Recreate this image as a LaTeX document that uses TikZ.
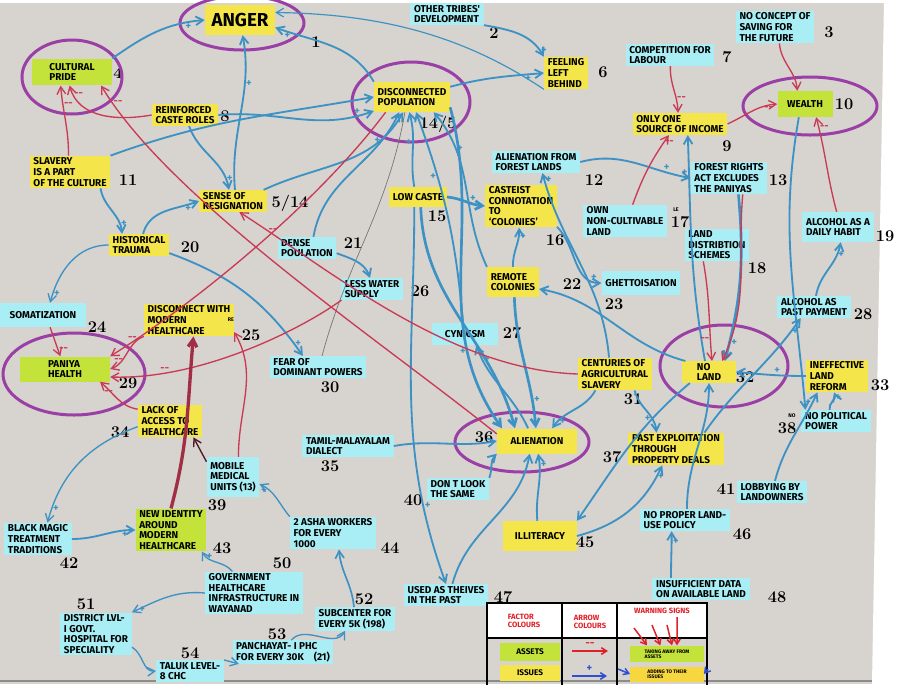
\documentclass[tikz,border=0pt]{standalone}
\usepackage{fontspec}
\usetikzlibrary{arrows.meta,calc}
\newfontfamily\boxfont{Fira Sans}
\definecolor{paper}{HTML}{D7D3CE}
\definecolor{issue}{HTML}{F4E64A}
\definecolor{factor}{HTML}{A8EEF4}
\definecolor{asset}{HTML}{C3E33A}
\definecolor{ringc}{HTML}{9A3FA5}
\definecolor{plusc}{HTML}{3C92C4}
\definecolor{minusc}{HTML}{C93A55}
\definecolor{legred}{HTML}{E0202A}
\definecolor{legblue}{HTML}{2F4FD0}

\begin{document}
\begin{tikzpicture}[x=0.3mm, y=-0.3mm,
  box/.style={inner xsep=1.1mm, inner ysep=0.6mm, align=left,
              font=\boxfont\bfseries\fontsize{8.5}{9}\selectfont},
  yel/.style={box, fill=issue},
  cya/.style={box, fill=factor},
  grn/.style={box, fill=asset},
  num/.style={inner sep=0pt, font=\bfseries\fontsize{14}{14}\selectfont},
  note/.style={inner sep=0pt, font=\boxfont\bfseries\fontsize{4.5}{5}\selectfont},
  halo/.style={draw=ringc, line width=0.9mm},
  adds/.style={-{Straight Barb[length=2.2mm,width=2.6mm]}, draw=plusc, line width=0.55mm},
  takes/.style={-{Straight Barb[length=2.2mm,width=2.6mm]}, draw=minusc, line width=0.4mm},
  faint/.style={draw=black!55, line width=0.2mm},
  sp/.style={text=plusc, inner sep=0.5pt, font=\boxfont\bfseries\fontsize{9}{9}\selectfont},
  sn/.style={text=minusc, inner sep=0.5pt, font=\boxfont\bfseries\fontsize{9}{9}\selectfont},
  keytxt/.style={text=legred, inner sep=0pt, align=left,
                 font=\boxfont\bfseries\fontsize{6.5}{7}\selectfont},
  tiny/.style={inner sep=0.6mm, align=left, font=\boxfont\bfseries\fontsize{4.3}{4.6}\selectfont},
  legarr/.style={-{Straight Barb[length=1.6mm,width=2mm]}, line width=0.45mm}]

  \useasboundingbox (0,0) rectangle (900,684);
  \fill[paper] (0,0) rectangle (900,684);
  \fill[white] (884,0) -- (900,0) -- (900,684) -- (872,684) -- cycle;
  \fill[white] (0,0) rectangle (884,3);
  \draw[black!45, line width=0.4mm] (0,681) -- (872,681);

  % factors
  \node[yel, font=\boxfont\bfseries\fontsize{16}{16}\selectfont,
        minimum width=21mm, minimum height=9mm] (anger) at (240,20) {ANGER};
  \node[cya] (tribes) at (447,14) {OTHER TRIBES'\\DEVELOPMENT};
  \node[cya] (saving) at (775,27) {NO CONCEPT OF\\SAVING FOR\\THE FUTURE};
  \node[grn, minimum width=24mm, minimum height=8mm] (pride) at (72,72) {CULTURAL\\PRIDE};
  \node[yel, minimum height=9mm] (discon) at (412,97) {DISCONNECTED\\POPULATION};
  \node[yel] (feel) at (566,73) {FEELING\\LEFT\\BEHIND};
  \node[cya] (compet) at (670,55) {COMPETITION FOR\\LABOUR};
  \node[yel] (caste) at (185,115) {REINFORCED\\CASTE ROLES};
  \node[yel] (income) at (680,124) {ONLY ONE\\SOURCE OF INCOME};
  \node[grn, minimum width=16.5mm, minimum height=7.8mm] (wealth) at (805,104) {WEALTH};
  \node[yel] (slavery) at (70,172) {SLAVERY\\IS A PART\\OF THE CULTURE};
  \node[cya] (forest) at (536,162) {ALIENATION FROM\\FOREST LANDS};
  \node[cya] (fra) at (729,178) {FOREST RIGHTS\\ACT EXCLUDES\\THE PANIYAS};
  \node[yel] (resig) at (233,201) {SENSE OF\\RESIGNATION};
  \node[yel, minimum height=6mm] (low) at (418,197) {LOW CASTE};
  \node[yel] (castst) at (521,206) {CASTEIST\\CONNOTATION\\TO\\‘COLONIES’};
  \node[cya] (ownland) at (625,221) {OWN\\NON-CULTIVABLE\\LAND};
  \node[cya] (lds) at (717,245) {LAND\\DISTRIBTION\\SCHEMES};
  \node[cya, minimum height=9mm] (daily) at (838,227) {ALCOHOL AS A\\DAILY HABIT};
  \node[yel] (trauma) at (139,245) {HISTORICAL\\TRAUMA};
  \node[cya] (dense) at (307,248) {DENSE\\POULATION};
  \node[yel, minimum height=9mm] (remote) at (513,282) {REMOTE\\COLONIES};
  \node[cya, minimum height=7mm] (ghetto) at (641,283) {GHETTOISATION};
  \node[cya, minimum width=25.5mm, minimum height=7.2mm] (somat) at (43,315) {SOMATIZATION};
  \node[yel] (dmh) at (189,320) {DISCONNECT WITH\\MODERN\\HEALTHCARE};
  \node[cya] (water) at (372,289) {LESS WATER\\SUPPLY};
  \node[cya, minimum width=20mm, minimum height=6.6mm] (cyn) at (465,334) {CYNICSM};
  \node[cya] (pastpay) at (814,307) {ALCOHOL AS\\PAST PAYMENT};
  \node[grn, minimum width=27mm, minimum height=7.5mm] (health) at (65,369) {PANIYA\\HEALTH};
  \node[cya] (fear) at (318,367) {FEAR OF\\DOMINANT POWERS};
  \node[yel] (centuries) at (615,374) {CENTURIES OF\\AGRICULTURAL\\SLAVERY};
  \node[yel, minimum width=16mm, minimum height=6mm] (noland) at (709,372) {NO\\LAND};
  \node[yel] (ineff) at (837,376) {INEFFECTIVE\\LAND\\REFORM};
  \node[yel] (lack) at (170,421) {LACK OF\\ACCESS TO\\HEALTHCARE};
  \node[cya] (tamil) at (348,446) {TAMIL-MALAYALAM\\DIALECT};
  \node[yel, minimum width=24mm, minimum height=7.5mm] (alien) at (537,441) {ALIENATION};
  \node[yel] (pastex) at (676,449) {PAST EXPLOITATION\\THROUGH\\PROPERTY DEALS};
  \node[cya] (polit) at (836,421) {NO POLITICAL\\POWER};
  \node[cya, minimum height=12mm] (mobile) at (233,477) {MOBILE\\MEDICAL\\UNITS (13)};
  \node[cya] (dontlook) at (458,489) {DON T LOOK\\THE SAME};
  \node[cya] (lobby) at (772,492) {LOBBYING BY\\LANDOWNERS};
  \node[cya] (magic) at (38,539) {BLACK MAGIC\\TREATMENT\\TRADITIONS};
  \node[grn] (newid) at (171,530) {NEW IDENTITY\\AROUND\\MODERN\\HEALTHCARE};
  \node[cya] (asha) at (333,533) {2 ASHA WORKERS\\FOR EVERY\\1000};
  \node[yel, minimum width=22mm, minimum height=9mm] (illit) at (540,536) {ILLITERACY};
  \node[cya] (landuse) at (685,520) {NO PROPER LAND-\\USE POLICY};
  \node[cya] (thieves) at (446,595) {USED AS THEIVES\\IN THE PAST};
  \node[cya] (insuff) at (701,589) {INSUFFICIENT DATA\\ON AVAILABLE LAND};
  \node[cya] (govt) at (254,593) {GOVERNMENT\\HEALTHCARE\\INFRASTRUCTURE IN\\WAYANAD};
  \node[cya] (district) at (96,634) {DISTRICT LVL-\\I GOVT.\\HOSPITAL FOR\\SPECIALITY};
  \node[cya] (subc) at (355,619) {SUBCENTER FOR\\EVERY 5K (198)};
  \node[cya] (panch) at (283,652) {PANCHAYAT- I PHC\\FOR EVERY 30K\quad(21)};
  \node[cya] (taluk) at (190,671) {TALUK LEVEL-\\8 CHC};

  % numbers
  \node[num] (n1) at (316,42) {1};
  \node[num] (n2) at (494,33) {2};
  \node[num] (n3) at (829,32) {3};
  \node[num] (n4) at (118,73) {4};
  \node[num] (n5) at (438,124) {14/5};
  \node[num] (n6) at (603,72) {6};
  \node[num] (n7) at (727,57) {7};
  \node[num] (n8) at (225,116) {8};
  \node[num] (n9) at (727,146) {9};
  \node[num] (n10) at (844,104) {10};
  \node[num] (n11) at (128,180) {11};
  \node[num] (n12) at (594,180) {12};
  \node[num] (n13) at (778,180) {13};
  \node[num] (n14) at (290,203) {5/14};
  \node[num] (n15) at (437,216) {15};
  \node[num] (n16) at (555,240) {16};
  \node[num] (n17) at (680,222) {17};
  \node[num] (n18) at (757,268) {18};
  \node[num] (n19) at (885,236) {19};
  \node[num] (n20) at (190,247) {20};
  \node[num] (n21) at (353,243) {21};
  \node[num] (n22) at (572,284) {22};
  \node[num] (n23) at (614,304) {23};
  \node[num] (n24) at (97,327) {24};
  \node[num] (n25) at (251,335) {25};
  \node[num] (n26) at (420,291) {26};
  \node[num] (n27) at (512,333) {27};
  \node[num] (n28) at (863,314) {28};
  \node[num] (n29) at (128,383) {29};
  \node[num] (n30) at (330,387) {30};
  \node[num] (n31) at (633,399) {31};
  \node[num] (n32) at (745,377) {32};
  \node[num] (n33) at (880,385) {33};
  \node[num] (n34) at (120,432) {34};
  \node[num] (n35) at (330,466) {35};
  \node[num] (n36) at (484,437) {36};
  \node[num] (n37) at (612,457) {37};
  \node[num] (n38) at (787,428) {38};
  \node[num] (n39) at (217,505) {39};
  \node[num] (n40) at (413,500) {40};
  \node[num] (n41) at (726,489) {41};
  \node[num] (n42) at (69,563) {42};
  \node[num] (n43) at (222,548) {43};
  \node[num] (n44) at (390,548) {44};
  \node[num] (n45) at (585,542) {45};
  \node[num] (n46) at (742,534) {46};
  \node[num] (n47) at (503,597) {47};
  \node[num] (n48) at (777,597) {48};
  \node[num] (n50) at (282,563) {50};
  \node[num] (n51) at (86,604) {51};
  \node[num] (n52) at (364,599) {52};
  \node[num] (n53) at (277,634) {53};
  \node[num] (n54) at (190,653) {54};
  \node[note] (sno) at (792,416) {NO};
  \node[note] (sre) at (231,320) {RE};
  \node[note] (sle) at (676,210) {LE};

  % rings round the key factors
  \draw[halo] (242,23) ellipse [x radius=62, y radius=27];
  \draw[halo] (72,77) ellipse [x radius=50, y radius=37];
  \draw[halo] (411,102) ellipse [x radius=59, y radius=40];
  \draw[halo] (810,106) ellipse [x radius=67, y radius=29];
  \draw[halo] (74,374) ellipse [x radius=71, y radius=41];
  \draw[halo] (724,366) ellipse [x radius=64, y radius=41];
  \draw[halo] (522,442) ellipse [x radius=67, y radius=30];

  % blue arrows (adding)
  \draw[adds] (pride.north east) to[out=35,in=185] node[sp,pos=.85,below]{+} (anger.west);
  \draw[adds] (discon.north west) to[out=120,in=-20] node[sp,pos=.9,below]{+} (anger.-12);
  \draw[adds, line width=0.35mm] (feel.south west) .. controls (470,40) and (390,14) .. (anger.12);
  \draw[adds] (tribes.south east) to[out=-10,in=120] node[sp,pos=.9,right]{+} (feel.north west);
  \draw[adds] (discon.15) to[out=15,in=185] node[sp,pos=.85,below]{+} (feel.west);
  \draw[adds] (resig.80) to[out=95,in=-80] node[sp,pos=.7,right]{+} (anger.-80);
  \draw[adds] (slavery.north east) to[out=20,in=190] (discon.west);
  \draw[adds] (caste.east) to[out=5,in=200] node[sp,pos=.9,above]{+} (discon.-160);
  \draw[adds] (caste.-70) to[out=-70,in=100] node[sp,pos=.85,right]{+} (resig.110);
  \draw[adds] ([xshift=-3mm]slavery.south east) to[out=-80,in=95] node[sp,pos=.8,right]{+} ([xshift=4mm]trauma.north west);
  \draw[adds] (trauma.70) to[out=75,in=200] node[sp,pos=.85,below]{+} (resig.west);
  \draw[adds, line width=0.4mm] (trauma.west) to[out=180,in=75] node[sp,pos=.9,right]{+} (somat.60);
  \draw[adds] (trauma.-15) to[out=-20,in=125] node[sp,pos=.92,right]{+} ([xshift=10mm]fear.north west);
  \draw[adds] (resig.20) to[out=25,in=240] (discon.-120);
  \draw[adds] (dense.60) to[out=80,in=245] node[sp,pos=.8,left]{+} (discon.-130);
  \draw[faint] (discon.-115) to[out=-100,in=75] (fear.70);
  \draw[adds] (low.110) to[out=100,in=-75] node[sp,pos=.6,left]{+} (discon.-100);
  \draw[adds] (cyn.100) to[out=95,in=-70] node[sp,pos=.7,left]{+} (discon.-75);
  \draw[adds] (remote.150) to[out=115,in=-50] node[sp,pos=.75,right]{+} (discon.-35);
  \draw[adds, line width=0.8mm] (discon.-15) to[out=-75,in=125] node[sp,pos=.75,left]{+} (alien.160);
  \draw[adds, line width=0.8mm] (low.-75) to[out=-88,in=105] (alien.150);
  \draw[adds, line width=0.8mm] (low.east) to[out=-5,in=175] node[sp,pos=.7,above]{+} (castst.west);
  \draw[adds] (low.-110) to[out=-90,in=110] node[sp,pos=.8,right]{+} (thieves.north);
  \draw[adds] (forest.east) to[out=15,in=170] node[sp,pos=.8,above]{+} (fra.west);
  \draw[adds] (centuries.110) to[out=95,in=-75] node[sp,pos=.97,right]{+} (forest.-60);
  \draw[adds] (remote.north) to[out=92,in=-88] node[sp,pos=.8,right]{+} (castst.-95);
  \draw[adds] (castst.-30) to[out=-45,in=180] node[sp,pos=.9,above]{+} (ghetto.west);
  \draw[adds, line width=0.8mm] (remote.-85) to[out=-88,in=95] node[sp,pos=.8,right]{+} (alien.95);
  \draw[adds] (noland.155) to[out=165,in=-10] (remote.-15);
  \draw[adds] (centuries.-140) to[out=-120,in=55] node[sp,pos=.85,right]{+} (alien.40);
  \draw[adds] (centuries.-40) to[out=-75,in=95] node[sp,pos=.7,left]{+} (pastex.140);
  \draw[adds] (noland.110) to[out=100,in=-88] node[sp,pos=.85,left]{+} (income.-55);
  \draw[adds, line width=0.8mm] (fra.-60) to[out=-85,in=75] node[sp,pos=.9,right]{+} (noland.35);
  \draw[adds] (wealth.-115) to[out=-100,in=95] (polit.160);
  \draw[adds] (pastpay.80) to[out=80,in=-100] node[sp,pos=.8,right]{+} (daily.-80);
  \draw[adds] (pastex.30) to[out=55,in=-125] node[sp,pos=.9,right]{+} (pastpay.-140);
  \draw[adds] (ineff.west) to[out=180,in=-5] node[sp,pos=.4,above]{+} (noland.east);
  \draw[adds] (polit.120) to[out=100,in=-70] node[sp,pos=.7,right]{+} (ineff.-100);
  \draw[adds] (lobby.75) to[out=75,in=-115] node[sp,pos=.9,left]{+} (ineff.-140);
  \draw[adds] (illit.east) to[out=15,in=-115] node[sp,pos=.9,right]{+} (pastex.-130);
  \draw[adds] (landuse.80) to[out=90,in=-90] (noland.south);
  \draw[adds] ([xshift=-9mm]insuff.north) to[out=90,in=-90] node[sp,pos=.8,right]{+} ([xshift=-4mm]landuse.south);
  \draw[adds] (illit.100) to[out=95,in=-80] node[sp,pos=.85,right]{+} (alien.-85);
  \draw[adds] (thieves.60) to[out=75,in=-100] (alien.-120);
  \draw[adds] (noland.-150) to[out=-140,in=55] (illit.north east);
  \draw[adds] (dontlook.north east) to[out=70,in=-135] (alien.south west);
  \draw[adds] (tamil.east) to[out=10,in=190] (alien.west);
  \draw[adds] (alien.125) to[out=115,in=-70] node[sp,pos=.85,right]{+} (cyn.-45);
  \draw[adds] (dense.-10) to[out=-20,in=110] (water.100);
  \draw[adds] (magic.east) to[out=0,in=180] node[sp,pos=.85,below]{+} (newid.west);
  \draw[adds, line width=0.4mm] (lack.190) to[out=200,in=75] node[sp,pos=.9,right]{+} (magic.60);
  \draw[adds, line width=0.4mm] (govt.135) to[out=130,in=-60] node[sp,pos=.85,right]{+} (newid.-35);
  \draw[adds, line width=0.4mm] (govt.west) to[out=175,in=25] node[sp,pos=.92,right]{+} (district.north east);
  \draw[adds, line width=0.4mm] (district.-20) to[out=-30,in=185] (taluk.west);
  \draw[adds, line width=0.4mm] (taluk.north east) to (panch.-165);
  \draw[adds, line width=0.4mm] (panch.55) to[out=50,in=-120] (subc.-130);
  \draw[adds, line width=0.5mm] (subc.95) to[out=95,in=-85] (asha.-70);
  \draw[adds, line width=0.4mm] (asha.north west) to[out=130,in=-25] node[sp,pos=.9,below]{+} (mobile.-15);

  % red arrows (taking away)
  \draw[takes] (alien.170) .. controls (380,340) and (170,200) .. node[sn,pos=.95,right]{--} (pride.-25);
  \draw[takes] (centuries.180) .. controls (450,370) and (330,270) .. node[sn,pos=.9,right]{--} (resig.-60);
  \draw[takes] (discon.-150) .. controls (320,200) and (200,300) .. node[sn,pos=.92,above]{--} (health.north east);
  \draw[takes] (dmh.-160) to[out=200,in=20] node[sn,pos=.8,above]{--} (health.east);
  \draw[takes] (water.-160) .. controls (300,330) and (200,380) .. node[sn,pos=.8,above]{--} (health.-10);
  \draw[takes] (lack.160) to[out=170,in=-40] node[sn,pos=.6,above left]{--} (health.-20);
  \draw[takes] (somat.-60) to[out=-70,in=110] node[sn,pos=.8,right]{--} (health.110);
  \draw[takes, draw=minusc!80!black, line width=1mm] (newid.north) to[out=75,in=-95] (dmh.-75);
  \draw[takes] (mobile.75) to[out=90,in=-60] (dmh.-15);
  \draw[takes, draw=black!60!minusc] (mobile.150) to (lack.-35);
  \draw[takes] (caste.west) to[out=190,in=-75] node[sn,pos=.9,right]{--} (pride.-100);
  \draw[takes] (slavery.95) to[out=90,in=-85] node[sn,pos=.75,right]{--} (pride.-130);
  \draw[takes] (compet.-88) to[out=-92,in=92] node[sn,pos=.7,right]{--} (income.100);
  \draw[takes] (ownland.65) to[out=70,in=-125] node[sn,pos=.9,right]{--} (income.-135);
  \draw[takes] (income.east) to[out=25,in=185] node[sn,pos=.85,below]{--} (wealth.west);
  \draw[takes] (saving.-75) to[out=-85,in=95] (wealth.120);
  \draw[takes] (daily.95) to[out=105,in=-75] node[sn,pos=.9,right]{--} (wealth.-50);
  \draw[takes] (lds.-130) to[out=-80,in=95] node[sn,pos=.8,left]{--} (noland.75);
  \draw[takes] (fra.-50) to[out=-95,in=65] (noland.40);

  % legend
  \fill[white] (487,603) rectangle (707,638);
  \draw[line width=0.6mm] (487,686) -- (487,603) -- (707,603) -- (707,686);
  \draw[line width=0.6mm] (487,638) -- (707,638);
  \draw[line width=0.6mm] (562,603) -- (562,686);
  \draw[line width=0.6mm] (617,603) -- (617,686);
  \node[keytxt] (kfac) at (524,621) {FACTOR\\COLOURS};
  \node[keytxt] (karr) at (590,622) {ARROW\\COLOURS};
  \node[keytxt] (kwarn) at (662,611) {WARNING SIGNS};
  \node[grn, font=\boxfont\bfseries\fontsize{7}{7}\selectfont,
        minimum width=18mm, minimum height=5.5mm] (kasset) at (530,652) {ASSETS};
  \node[yel, font=\boxfont\bfseries\fontsize{7}{7}\selectfont,
        minimum width=18mm, minimum height=5mm] (kissue) at (530,673) {ISSUES};
  \coordinate (ra) at (572,651);
  \coordinate (rb) at (608,651);
  \coordinate (ba) at (572,676);
  \coordinate (bb) at (607,676);
  \draw[legarr, legred] (ra) -- node[above, text=legred, font=\boxfont\bfseries\small]{--} (rb);
  \draw[legarr, legblue] (ba) -- node[above, text=legblue, font=\boxfont\bfseries\small]{+} (bb);
  \node[tiny, fill=asset, minimum width=22mm, minimum height=5mm] (ktake) at (667,654) {TAKING AWAY FROM\\ASSETS};
  \node[tiny, fill=issue!85!orange, minimum width=22mm, minimum height=4.5mm] (kadd) at (667,674) {ADDING TO THEIR\\ISSUES};
  \coordinate (w1) at (634,628);
  \coordinate (w2) at (652,625);
  \coordinate (w3) at (667,625);
  \coordinate (w4) at (677,617);
  \coordinate (w5) at (618,669);
  \coordinate (w6) at (708,669);
  \draw[legarr, legred] (w1) -- ([xshift=-6mm]ktake.north);
  \draw[legarr, legred] (w2) -- ([xshift=-2mm]ktake.north);
  \draw[legarr, legred] (w3) -- ([xshift=1.5mm]ktake.north);
  \draw[legarr, legred] (w4) -- ([xshift=3mm]ktake.north);
  \draw[legarr, legblue] (w5) -- (kadd.west);
  \draw[legarr, legblue] (w6) -- (kadd.east);
\end{tikzpicture}
\end{document}
